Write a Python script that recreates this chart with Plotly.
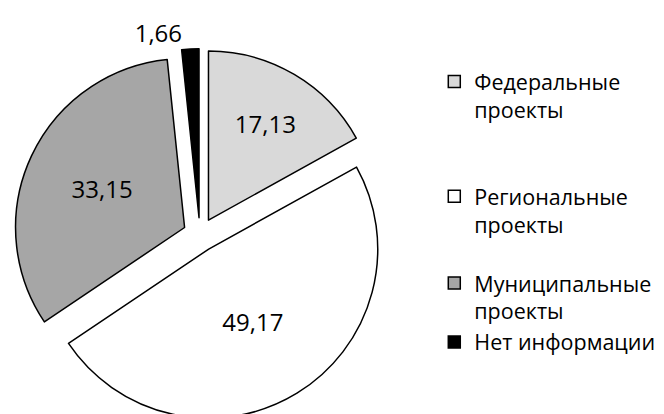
import plotly.graph_objects as go

labels = ["Федеральные<br>проекты<br> <br> ", "Региональные<br>проекты<br> ", "Муниципальные<br>проекты", "Нет информации"]
values = [17.13, 49.17, 33.15, 1.66]
colors = ["#d9d9d9", "#ffffff", "#a6a6a6", "#000000"]

fig = go.Figure(go.Pie(
    labels=labels,
    values=values,
    sort=False,
    direction="clockwise",
    rotation=0,
    pull=[0.1, 0.1, 0.1, 0.1],
    marker=dict(colors=colors, line=dict(color="#000000", width=1.5)),
    texttemplate="%{value:.2f}",
    textposition=["inside", "inside", "inside", "outside"],
    insidetextorientation="horizontal",
    textfont=dict(family="Open Sans", size=24, color="#000000"),
    domain=dict(x=[0.009, 0.569], y=[0.0, 0.905]),
    hoverinfo="skip",
))

fig.update_layout(
    width=664, height=414,
    margin=dict(l=0, r=0, t=0, b=0, autoexpand=False),
    paper_bgcolor="#ffffff",
    separators=", ",
    showlegend=True,
    legend=dict(
        x=0.642, y=0.872, xanchor="left", yanchor="top",
        font=dict(family="Open Sans", size=21.5, color="#000000"),
        valign="top",
        itemclick=False,
        tracegroupgap=0,
    ),
    font=dict(family="Open Sans"),
)

fig.write_html("out.html")
